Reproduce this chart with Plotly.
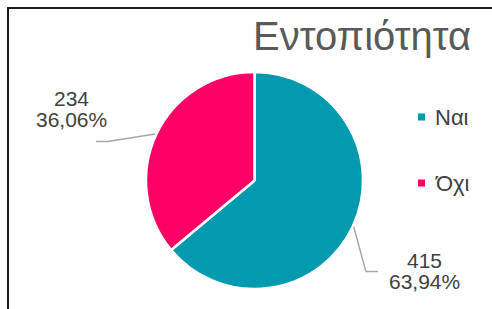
import math
import plotly.graph_objects as go

# ---- data ----
categories = ["Ναι", "Όχι"]
values = [415, 234]
colors = ["#0399AE", "#FF0066"]
title_text = "Εντοπιότητα"

W, H = 492, 309
total = sum(values)

def px(x):
    return x / W

def py(y):
    return 1 - y / H

# pie geometry (pixels)
cx, cy, r = 254.5, 180.5, 108.5

fig = go.Figure(go.Pie(
    labels=categories,
    values=values,
    marker=dict(colors=colors, line=dict(color="white", width=2.5)),
    sort=False,
    direction="clockwise",
    rotation=0,
    textinfo="none",
    hoverinfo="label+value+percent",
    showlegend=False,
    domain=dict(x=[px(cx - r), px(cx + r)], y=[py(cy + r), py(cy - r)]),
))

annotations = []
shapes = []
lab_font = dict(family="Liberation Sans, Arial", size=21, color="#404040")

# data labels with leader lines
cum = 0
for cat, v in zip(categories, values):
    frac = v / total
    mid = (cum + frac / 2) * 360  # clockwise from 12 o'clock
    cum += frac
    th = math.radians(90 - mid)
    c, s = math.cos(th), math.sin(th)
    lx, ly = cx + 1.74 * r * c, cy - 1.74 * r * s
    pct = f"{frac * 100:.2f}".replace(".", ",") + "%"
    if c > 0:
        lx, ly = lx - 0.5, ly + 10
    else:
        lx, ly = lx - 12, ly + 8.5
    for txt, dy in ((str(v), -10.5), (pct, 10.5)):
        annotations.append(dict(
            x=px(lx), y=py(ly + dy), xref="paper", yref="paper",
            text=txt, showarrow=False, font=lab_font,
            xanchor="center", yanchor="middle", align="center",
        ))
    ex, ey = cx + 1.01 * r * c, cy - 1.01 * r * s
    if c > 0:
        pts = [(ex, ey), (lx - 59, ly + 1), (lx - 47, ly + 1)]
    else:
        pts = [(ex, ey), (lx + 36, ly + 32.5), (lx + 24.5, ly + 32.5)]
    path = "M " + " L ".join(f"{px(a)},{py(b)}" for a, b in pts)
    shapes.append(dict(type="path", xref="paper", yref="paper", path=path,
                       line=dict(color="#A6A6A6", width=1.5)))

# legend (drawn manually)
leg_x, leg_y0, leg_dy = 421.5, 117, 66
for i, (cat, col) in enumerate(zip(categories, colors)):
    yy = leg_y0 + i * leg_dy
    shapes.append(dict(type="rect", xref="paper", yref="paper",
                       x0=px(leg_x - 3.5), x1=px(leg_x + 3.5),
                       y0=py(yy + 3.5), y1=py(yy - 3.5),
                       fillcolor=col, line=dict(width=0)))
    annotations.append(dict(
        x=px(leg_x + 11), y=py(yy), xref="paper", yref="paper",
        text=cat, showarrow=False, xanchor="left", yanchor="middle",
        font=dict(family="Liberation Sans, Arial", size=22, color="#404040"),
    ))

# title
annotations.append(dict(
    x=px(473), y=py(36), xref="paper", yref="paper",
    text=title_text, showarrow=False, xanchor="right", yanchor="middle",
    font=dict(family="Liberation Sans, Arial", size=40, color="#595959"),
))

# chart border (top and left visible)
shapes.append(dict(type="line", xref="paper", yref="paper",
                   x0=px(7), x1=px(W + 5), y0=py(8), y1=py(8),
                   line=dict(color="#1a1a1a", width=2)))
shapes.append(dict(type="line", xref="paper", yref="paper",
                   x0=px(8), x1=px(8), y0=py(7), y1=py(H + 5),
                   line=dict(color="#1a1a1a", width=2)))

fig.update_layout(
    width=W, height=H,
    margin=dict(l=0, r=0, t=0, b=0),
    paper_bgcolor="white", plot_bgcolor="white",
    annotations=annotations, shapes=shapes,
    showlegend=False,
)

fig.write_html(
    "out.html",
    config={"displayModeBar": False},
    post_script="document.body.style.margin='0px';document.body.style.overflow='hidden';",
)
